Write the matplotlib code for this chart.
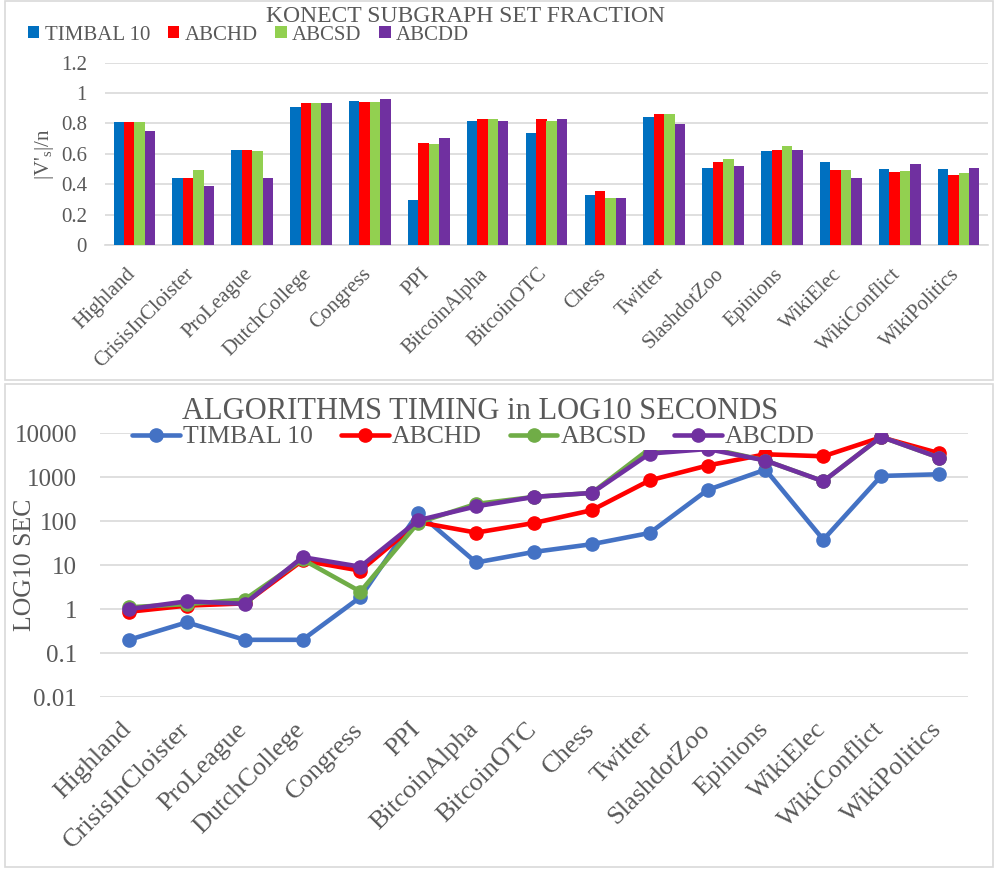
import matplotlib
matplotlib.use("Agg")
import matplotlib.pyplot as plt
import matplotlib.transforms as mtransforms
from matplotlib.patches import Rectangle, Patch
import numpy as np

plt.rcParams['font.family'] = ['Liberation Serif', 'DejaVu Serif']
plt.rcParams['mathtext.fontset'] = 'custom'
plt.rcParams['mathtext.rm'] = 'Liberation Serif'
plt.rcParams['mathtext.it'] = 'Liberation Serif:italic'

categories = ["Highland", "CrisisInCloister", "ProLeague", "DutchCollege", "Congress",
              "PPI", "BitcoinAlpha", "BitcoinOTC", "Chess", "Twitter", "SlashdotZoo",
              "Epinions", "WikiElec", "WikiConflict", "WikiPolitics"]
series_names = ["TIMBAL 10", "ABCHD", "ABCSD", "ABCDD"]

# Top chart: subgraph set fraction |V's|/n
frac_timbal = [0.81, 0.443, 0.623, 0.906, 0.948, 0.296, 0.816, 0.739, 0.327, 0.840, 0.507, 0.621, 0.544, 0.502, 0.500]
frac_abchd  = [0.81, 0.443, 0.623, 0.932, 0.941, 0.674, 0.832, 0.832, 0.353, 0.864, 0.546, 0.623, 0.494, 0.478, 0.459]
frac_abcsd  = [0.81, 0.494, 0.621, 0.932, 0.939, 0.663, 0.832, 0.816, 0.309, 0.864, 0.566, 0.652, 0.494, 0.485, 0.474]
frac_abcdd  = [0.75, 0.390, 0.439, 0.937, 0.959, 0.704, 0.814, 0.832, 0.309, 0.794, 0.522, 0.625, 0.443, 0.535, 0.505]

# Bottom chart: timing in seconds (log scale)
time_timbal = [0.2, 0.5, 0.2, 0.2, 1.87, 155, 11.5, 20, 30, 54, 515, 1490, 38, 1070, 1170]
time_abchd  = [0.87, 1.2, 1.35, 12.8, 7.5, 95, 55, 91, 178, 850, 1850, 3330, 3000, 8100, 3530]
time_abcsd  = [1.1, 1.3, 1.65, 13.5, 2.5, 93, 247, 357, 440, 4470, 4650, 2400, 810, 8300, 2800]
time_abcdd  = [1.0, 1.5, 1.32, 15.2, 9.2, 105, 218, 357, 440, 3460, 4390, 2400, 810, 8300, 2800]

bar_colors = ["#0070C0", "#FF0000", "#92D050", "#7030A0"]
line_colors = ["#4472C4", "#FF0000", "#70AD47", "#7030A0"]
text_color = "#595959"
grid_color = "#D9D9D9"

W, H = 995, 869
fig = plt.figure(figsize=(W / 100, H / 100), dpi=100)

def fx(px):
    return px / W

def fy(py):
    return 1 - py / H

# Chart borders
fig.patches.append(Rectangle((fx(5), fy(380)), fx(988), 379 / H, transform=fig.transFigure,
                             fill=False, edgecolor=grid_color, linewidth=1.2))
fig.patches.append(Rectangle((fx(5), fy(867)), fx(988), 483 / H, transform=fig.transFigure,
                             fill=False, edgecolor=grid_color, linewidth=1.2))

# ---------------- Top chart ----------------
ax1 = fig.add_axes([fx(105), fy(245), fx(988 - 105), (245 - 62.7) / H])
x = np.arange(len(categories))
bw = 0.177
fracs = [frac_timbal, frac_abchd, frac_abcsd, frac_abcdd]
for i, (vals, c) in enumerate(zip(fracs, bar_colors)):
    ax1.bar(x + (i - 1.5) * bw, vals, width=bw, color=c, linewidth=0, zorder=3)
ax1.set_xlim(-0.5, len(categories) - 0.5)
ax1.set_ylim(0, 1.2)
ax1.set_yticks([0, 0.2, 0.4, 0.6, 0.8, 1.0, 1.2])
ax1.set_yticklabels(["0", "0.2", "0.4", "0.6", "0.8", "1", "1.2"])
ax1.grid(axis='y', color=grid_color, linewidth=1.2, zorder=0)
for s in ["top", "right", "left"]:
    ax1.spines[s].set_visible(False)
ax1.spines["bottom"].set_color(grid_color)
ax1.spines["bottom"].set_linewidth(1.2)
ax1.tick_params(axis='both', length=0, colors=text_color, labelsize=15)
ax1.tick_params(axis='y', pad=13)
ax1.set_xticks(x)
ax1.set_xticklabels(categories, rotation=45, ha='right', va='center',
                    rotation_mode='anchor', fontsize=15, color=text_color)
ax1.tick_params(axis='x', pad=19)
off1 = mtransforms.ScaledTranslation(-2 / 100, 0, fig.dpi_scale_trans)
for lab in ax1.get_xticklabels():
    lab.set_transform(lab.get_transform() + off1)
ax1.set_ylabel(r"|V'$_{\mathrm{s}}$|/n", fontsize=15, color=text_color)
ax1.yaxis.set_label_coords((56 - 105) / (988 - 105), 0.5)

fig.text(fx(465), fy(16), "KONECT SUBGRAPH SET FRACTION", ha='center', va='center',
         fontsize=17, color=text_color)
handles1 = [Patch(facecolor=c, edgecolor='none') for c in bar_colors]
fig.legend(handles1, series_names, loc='center left', bbox_to_anchor=(fx(28), fy(35)),
           ncol=4, frameon=False, fontsize=15, handlelength=0.55, handleheight=0.55,
           handletextpad=0.25, columnspacing=0.85, borderpad=0, borderaxespad=0,
           labelcolor=text_color)

# ---------------- Bottom chart ----------------
ax2 = fig.add_axes([fx(100), fy(697), fx(968 - 100), (697 - 433.3) / H])
times = [time_timbal, time_abchd, time_abcsd, time_abcdd]
for vals, c, name in zip(times, line_colors, series_names):
    ax2.plot(x, vals, color=c, linewidth=3.3, marker='o', markersize=9.5,
             label=name, zorder=3, solid_capstyle='round')
ax2.set_yscale('log')
ax2.set_ylim(0.01, 10000)
ax2.set_xlim(-0.5, len(categories) - 0.5)
yt = [0.01, 0.1, 1, 10, 100, 1000, 10000]
ax2.set_yticks(yt)
ax2.set_yticklabels(["0.01", "0.1", "1", "10", "100", "1000", "10000"])
ax2.yaxis.set_minor_locator(matplotlib.ticker.NullLocator())
ax2.grid(axis='y', which='major', color=grid_color, linewidth=1.2, zorder=0)
for s in ["top", "right", "left", "bottom"]:
    ax2.spines[s].set_visible(False)
ax2.tick_params(axis='both', length=0, colors=text_color, labelsize=18)
ax2.tick_params(axis='y', pad=16.5)
ax2.set_xticks(x)
ax2.set_xticklabels(categories, rotation=45, ha='right', va='center',
                    rotation_mode='anchor', fontsize=19, color=text_color)
ax2.tick_params(axis='x', pad=21)
off2 = mtransforms.ScaledTranslation(-1 / 100, 0, fig.dpi_scale_trans)
for lab in ax2.get_xticklabels():
    lab.set_transform(lab.get_transform() + off2)
ax2.set_ylabel("LOG10 SEC", fontsize=18.5, color=text_color)
ax2.yaxis.set_label_coords((36 - 100) / (968 - 100), 0.5)

fig.text(fx(480), fy(411), "ALGORITHMS TIMING in LOG10 SECONDS", ha='center', va='center',
         fontsize=22, color=text_color)
leg2 = ax2.legend(loc='center left', bbox_to_anchor=(fx(131), fy(437)),
                  bbox_transform=fig.transFigure, ncol=4, frameon=True, fontsize=18.5,
                  handlelength=1.85, handletextpad=0.12, columnspacing=1.1,
                  borderpad=0.05, borderaxespad=0, labelcolor=text_color)
leg2.get_frame().set_facecolor('white')
leg2.get_frame().set_edgecolor('none')
leg2.get_frame().set_alpha(1)
leg2.set_zorder(5)

fig.savefig("out.png", dpi=100, facecolor='white')
